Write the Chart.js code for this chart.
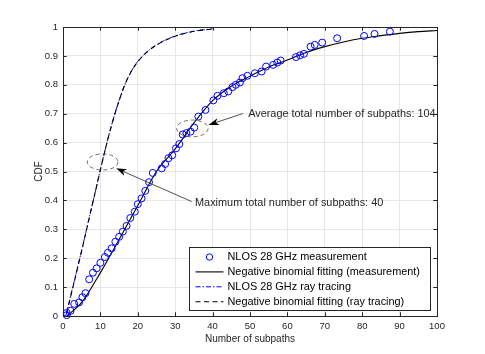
<!DOCTYPE html>
<html><head><meta charset="utf-8">
<script src="https://cdn.jsdelivr.net/npm/chart.js@4"></script>
<style>html,body{margin:0;padding:0;background:#fff}</style>
</head><body>
<canvas id="c" width="485" height="354" style="width:485px;height:354px;display:block"></canvas>
<script>
// ---- data ----
const measX = [1,1,2,3,4.3,5.2,6,7,8,9,10,11.2,12,13,14,15,16,17,18,19.2,20,21,22,23,24,26.4,27.3,28.2,29.2,30.2,31.1,32,33,34.1,35.1,36.2,38.1,40.2,41.3,43,44.2,45.3,46.2,47.3,48,49.3,51.3,53.1,54.3,56.2,57.3,58.2,62.3,63.4,64.4,66.2,67.3,69.3,73.3,80.5,83.3,87.4];
const measY = [0.003,0.011,0.018,0.042,0.047,0.065,0.079,0.127,0.15,0.165,0.184,0.204,0.219,0.234,0.257,0.274,0.292,0.312,0.339,0.361,0.387,0.407,0.433,0.463,0.495,0.511,0.526,0.546,0.556,0.58,0.595,0.628,0.633,0.638,0.652,0.69,0.713,0.746,0.762,0.771,0.777,0.792,0.8,0.808,0.823,0.831,0.84,0.846,0.863,0.869,0.877,0.884,0.896,0.902,0.907,0.932,0.938,0.946,0.961,0.969,0.976,0.984];

const fitMeasX = [1,5,10,15,20,25,30,35,40,45,50,55,60,65,70,75,80,85,90,95,100];
const fitMeasY = [0.0,0.047,0.15,0.265,0.382,0.5,0.578,0.668,0.745,0.795,0.83,0.862,0.886,0.912,0.932,0.948,0.961,0.97,0.978,0.984,0.988];

const rayX = [0.8,2,3,4,5,6,7,8,9,10,11,12,13,14,15,16,17,18,19,20,22,24,26,28,30,32,34,36,38,40];
const rayY = [0.003,0.068,0.12,0.174,0.228,0.284,0.34,0.395,0.45,0.507,0.561,0.613,0.661,0.706,0.746,0.783,0.815,0.841,0.863,0.881,0.909,0.93,0.946,0.959,0.969,0.977,0.983,0.988,0.991,0.994];

const fitRayX = [1,2,3,4,5,6,7,8,9,10,11,12,13,14,15,16,17,18,19,20,22,24,26,28,30,32,34,36,38,40];
const fitRayY = [0.01,0.065,0.118,0.172,0.226,0.282,0.338,0.394,0.45,0.506,0.56,0.612,0.66,0.705,0.745,0.782,0.814,0.84,0.862,0.88,0.908,0.929,0.945,0.958,0.968,0.976,0.982,0.987,0.99,0.993];

const xTicks = [0,10,20,30,40,50,60,70,80,90,100];
const yTicks = [0,0.1,0.2,0.3,0.4,0.5,0.6,0.7,0.8,0.9,1];

const seriesNames = ['NLOS 28 GHz measurement','Negative binomial fitting (measurement)','NLOS 28 GHz ray tracing','Negative binomial fitting (ray tracing)'];
const xTitle = 'Number of subpaths';
const yTitle = 'CDF';
// annotations in data units
const annAvg = {text:'Average total number of subpaths: 104', tx:49.5, ty:0.699, ax:48.1, ay:0.7005, hx:38.9, hy:0.661, ex:34.6, ey:0.649, rx:4.2, ry:0.029};
const annMax = {text:'Maximum total number of subpaths: 40', tx:35.3, ty:0.391, ax:34.4, ay:0.396, hx:14.2, hy:0.511, ex:10.6, ey:0.533, rx:4.1, ry:0.028};

const pts = (xs, ys) => xs.map((x,i)=>({x, y:ys[i]}));
const FONT = '"Liberation Sans", Arial, Helvetica, sans-serif';
const AX = '#262626';

const overlay = {
  id:'overlay',
  afterDraw(chart){
    const {ctx, chartArea:a, scales:{x, y}} = chart;
    ctx.save();
    // inward ticks
    ctx.strokeStyle = AX; ctx.lineWidth = 1;
    const tl = 3.7;
    ctx.beginPath();
    xTicks.forEach(v=>{ const px=Math.round(x.getPixelForValue(v))+0.5;
      ctx.moveTo(px,a.bottom); ctx.lineTo(px,a.bottom-tl);
      ctx.moveTo(px,a.top); ctx.lineTo(px,a.top+tl); });
    yTicks.forEach(v=>{ const py=Math.round(y.getPixelForValue(v))+0.5;
      ctx.moveTo(a.left,py); ctx.lineTo(a.left+tl,py);
      ctx.moveTo(a.right,py); ctx.lineTo(a.right-tl,py); });
    ctx.stroke();
    // box
    ctx.strokeRect(Math.round(a.left)+0.5, Math.round(a.top)+0.5, Math.round(a.right-a.left), Math.round(a.bottom-a.top));

    // annotations
    [annAvg, annMax].forEach(an=>{
      const cx=x.getPixelForValue(an.ex), cy=y.getPixelForValue(an.ey);
      const rxp=Math.abs(x.getPixelForValue(an.ex+an.rx)-cx), ryp=Math.abs(y.getPixelForValue(an.ey+an.ry)-cy);
      ctx.save(); ctx.setLineDash([4,3]); ctx.strokeStyle='#595959'; ctx.lineWidth=0.9;
      ctx.beginPath(); ctx.ellipse(cx,cy,rxp,ryp,0,0,Math.PI*2); ctx.stroke(); ctx.restore();
      const x1=x.getPixelForValue(an.ax), y1=y.getPixelForValue(an.ay);
      const x2=x.getPixelForValue(an.hx), y2=y.getPixelForValue(an.hy);
      const ang=Math.atan2(y2-y1,x2-x1), L=9, W=3.6;
      const bx=x2-L*Math.cos(ang), by=y2-L*Math.sin(ang);
      ctx.strokeStyle=AX; ctx.lineWidth=0.8;
      ctx.beginPath(); ctx.moveTo(x1,y1); ctx.lineTo(bx+2*Math.cos(ang),by+2*Math.sin(ang)); ctx.stroke();
      ctx.fillStyle='#000';
      ctx.beginPath(); ctx.moveTo(x2,y2);
      ctx.lineTo(bx - W*Math.sin(ang) - 1.5*Math.cos(ang), by + W*Math.cos(ang) - 1.5*Math.sin(ang));
      ctx.lineTo(bx+1.5*Math.cos(ang), by+1.5*Math.sin(ang));
      ctx.lineTo(bx + W*Math.sin(ang) - 1.5*Math.cos(ang), by - W*Math.cos(ang) - 1.5*Math.sin(ang));
      ctx.closePath(); ctx.fill();
      ctx.fillStyle=AX; ctx.font='10.9px '+FONT; ctx.textAlign='left'; ctx.textBaseline='middle';
      ctx.fillText(an.text, x.getPixelForValue(an.tx), y.getPixelForValue(an.ty));
    });

    // legend
    const lw=241, lh=63;
    const lx=Math.round(a.right-7-lw)+0.5, ly=Math.round(a.bottom-6-lh)+0.5;
    ctx.fillStyle='#fff'; ctx.fillRect(lx,ly,lw,lh);
    ctx.strokeStyle=AX; ctx.lineWidth=1; ctx.strokeRect(lx,ly,lw,lh);
    const ds = chart.data.datasets;
    const order=[0,1,2,3];
    ctx.font='10.9px '+FONT; ctx.textBaseline='middle'; ctx.textAlign='left';
    order.forEach((di,i)=>{
      const d=ds[di]; const ry=ly+9.5+i*14.9;
      const s0=lx+6, s1=lx+34;
      if(di===0){
        ctx.strokeStyle=d.borderColor; ctx.lineWidth=1; ctx.beginPath(); ctx.arc((s0+s1)/2, ry, 3.2, 0, Math.PI*2); ctx.stroke();
      } else {
        ctx.save(); ctx.strokeStyle=d.borderColor; ctx.lineWidth=d.borderWidth; ctx.setLineDash(d.borderDash||[]);
        ctx.beginPath(); ctx.moveTo(s0,ry); ctx.lineTo(s1,ry); ctx.stroke(); ctx.restore();
      }
      ctx.fillStyle='#000'; ctx.fillText(d.label, lx+38, ry);
    });

    // axis titles
    ctx.fillStyle=AX; ctx.font='10px '+FONT; ctx.textAlign='center'; ctx.textBaseline='middle';
    ctx.fillText(xTitle, (a.left+a.right)/2, 339);
    ctx.save(); ctx.translate(39,(a.top+a.bottom)/2); ctx.rotate(-Math.PI/2); ctx.fillText(yTitle,0,0); ctx.restore();
    ctx.restore();
  }
};

new Chart(document.getElementById('c'), {
  type:'scatter',
  data:{datasets:[
    {label:seriesNames[0], data:pts(measX,measY), showLine:false, pointStyle:'circle', pointRadius:3.5, borderColor:'#0000ff', backgroundColor:'rgba(0,0,0,0)', borderWidth:1, order:0, clip:false},
    {label:seriesNames[1], data:pts(fitMeasX,fitMeasY), showLine:true, pointRadius:0, borderColor:'#000', borderWidth:1.1, tension:0.4, cubicInterpolationMode:'monotone', order:1},
    {label:seriesNames[2], data:pts(rayX,rayY), showLine:true, pointRadius:0, borderColor:'#0000ff', borderWidth:1, borderDash:[5,2,1.5,2], cubicInterpolationMode:'monotone', order:3},
    {label:seriesNames[3], data:pts(fitRayX,fitRayY), showLine:true, pointRadius:0, borderColor:'#000', borderWidth:1.1, borderDash:[5,3.5], cubicInterpolationMode:'monotone', order:2}
  ]},
  options:{
    responsive:false, animation:false, devicePixelRatio:1,
    layout:{padding:{top:27, right:48, left:0, bottom:0}},
    plugins:{legend:{display:false}, tooltip:{enabled:false}},
    scales:{
      x:{type:'linear', min:0, max:100, afterBuildTicks:s=>{s.ticks=xTicks.map(v=>({value:v}));},
        afterFit:s=>{s.height=38;},
        ticks:{color:AX, font:{family:FONT, size:9.5}, padding:5, maxRotation:0, autoSkip:false},
        grid:{color:'#e6e6e6', drawTicks:false}, border:{display:false}},
      y:{type:'linear', min:0, max:1, afterBuildTicks:s=>{s.ticks=yTicks.map(v=>({value:v}));},
        afterFit:s=>{s.width=63;},
        ticks:{color:AX, font:{family:FONT, size:9.5}, padding:5, autoSkip:false, callback:v=>String(Math.round(v*10)/10)},
        grid:{color:'#e6e6e6', drawTicks:false}, border:{display:false}}
    }
  },
  plugins:[overlay]
});
</script>
</body></html>
